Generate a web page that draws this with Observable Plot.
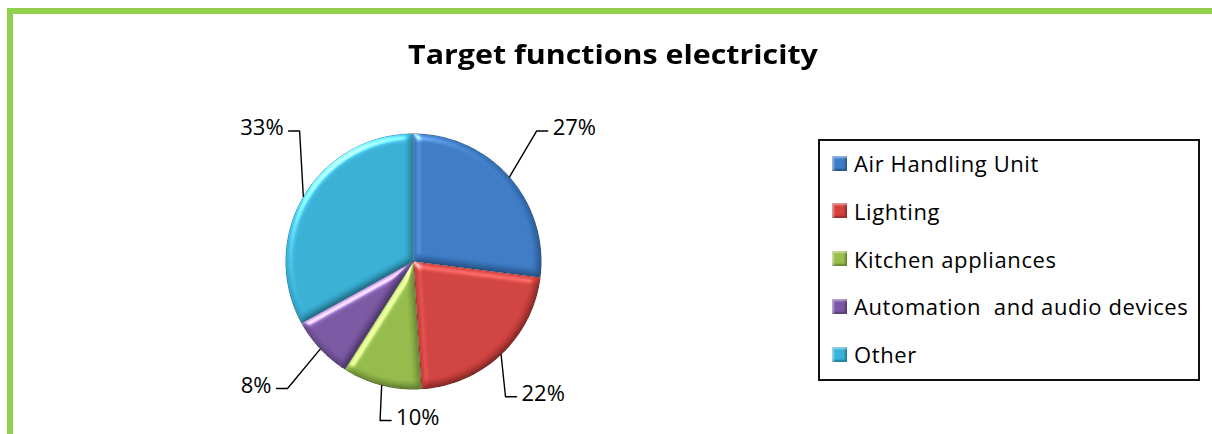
<!DOCTYPE html>
<html>
<head>
<meta charset="utf-8">
<script src="https://cdn.jsdelivr.net/npm/d3@7"></script>
<script src="https://cdn.jsdelivr.net/npm/@observablehq/plot@0.6"></script>
<style>
  html, body { margin: 0; padding: 0; background: #fff; }
  #frame { position: relative; width: 1212px; height: 434px; overflow: hidden; font-family: "Open Sans", Lato, sans-serif; }
  #border { position: absolute; left: 7px; top: 8px; width: 1240px; height: 470px; border: 6px solid #92D050; box-sizing: border-box; }
  #title { position: absolute; left: 0; width: 1226px; top: 37px; text-align: center; font-weight: bold; font-size: 27px; line-height: 34px; color: #000; transform: scaleX(1.125); transform-origin: 613px 0; }
  #chart { position: absolute; left: 0; top: 0; }
  #legend { position: absolute; left: 818px; top: 139px; width: 382px; height: 242px; border: 2px solid #111; box-sizing: border-box; }
  .row { position: absolute; left: 12px; height: 30px; display: flex; align-items: center; font-size: 22px; letter-spacing: 0.6px; white-space: pre; color: #000; }
  .sw { width: 15px; height: 15px; margin-right: 7px; box-sizing: border-box; }
</style>
</head>
<body>
<div id="frame">
  <div id="border"></div>
  <div id="title">Target functions electricity</div>
  <div id="chart"></div>
  <div id="legend"></div>
</div>
<script>
const categories = ["Air Handling Unit", "Lighting", "Kitchen appliances", "Automation  and audio devices", "Other"];
const values = [27, 22, 10, 8, 33];
const labels = ["27%", "22%", "10%", "8%", "33%"];
const colors = ["#3D7CC9", "#D4413E", "#97BE4B", "#7B58A5", "#38B3DA"];

const W = 1212, H = 434;
const cx = 413, cy = 261, R = 128;

const arcs = d3.pie().sort(null).value(d => d.value).startAngle(0).endAngle(2 * Math.PI)(
  categories.map((c, i) => ({category: c, value: values[i], label: labels[i]}))
);

// slice polygons in unit-radius coordinates (y up, angle clockwise from top)
const slicePts = [];
arcs.forEach(a => {
  slicePts.push({category: a.data.category, x: 0, y: 0});
  const n = Math.max(2, Math.ceil((a.endAngle - a.startAngle) / (Math.PI / 180)));
  for (let k = 0; k <= n; k++) {
    const t = a.startAngle + (a.endAngle - a.startAngle) * k / n;
    slicePts.push({category: a.data.category, x: Math.sin(t), y: Math.cos(t)});
  }
  slicePts.push({category: a.data.category, x: 0, y: 0});
});

// leader lines: upper labels sit level with the top of the pie, lower ones go outward
const seg = 11 / R, gap = 5 / R;
const yMin = -(H - cy - 14) / R;
const leaderPts = [], labRight = [], labLeft = [];
arcs.forEach(a => {
  const m = (a.startAngle + a.endAngle) / 2;
  const sx = Math.sin(m), sy = Math.cos(m);
  const upper = sy > 0;
  const right = sx > -0.3;
  const ex = upper ? sx * 1.15 + 0.1 : sx * (right ? 1.05 : 1.35);
  const ey = upper ? 1.02 : Math.max(yMin, sy * 1.45);
  const hx = ex + (right ? seg : -seg);
  leaderPts.push({label: a.data.label, x: sx, y: sy});
  leaderPts.push({label: a.data.label, x: ex, y: ey});
  leaderPts.push({label: a.data.label, x: hx, y: ey});
  (right ? labRight : labLeft).push({label: a.data.label, x: hx + (right ? gap : -gap), y: ey});
});

const plot = Plot.plot({
  width: W, height: H, margin: 0,
  x: {domain: [-cx / R, (W - cx) / R], axis: null},
  y: {domain: [-(H - cy) / R, cy / R], axis: null},
  color: {domain: categories, range: colors},
  style: {fontFamily: "'Open Sans', Lato, sans-serif", fontSize: "22px", background: "transparent"},
  marks: [
    Plot.line(slicePts, {x: "x", y: "y", z: "category", fill: "category", stroke: "rgba(0,0,0,0.28)", strokeWidth: 1, curve: "linear"}),
    Plot.line(leaderPts, {x: "x", y: "y", z: "label", stroke: "#000", strokeWidth: 1.4}),
    Plot.text(labRight, {x: "x", y: "y", text: "label", textAnchor: "start", lineAnchor: "bottom", dy: 4, fontSize: 22, fill: "#000"}),
    Plot.text(labLeft, {x: "x", y: "y", text: "label", textAnchor: "end", lineAnchor: "bottom", dy: 4, fontSize: 22, fill: "#000"})
  ]
});

// bevel look for each slice
const ns = "http://www.w3.org/2000/svg";
const defs = document.createElementNS(ns, "defs");
defs.innerHTML = `
<filter id="bevel" x="-5%" y="-5%" width="110%" height="110%" color-interpolation-filters="sRGB">
  <feGaussianBlur in="SourceAlpha" stdDeviation="3.5" result="b"/>
  <feSpecularLighting in="b" surfaceScale="4" specularConstant="0.8" specularExponent="25" lighting-color="#ffffff" result="s">
    <feDistantLight azimuth="235" elevation="35"/>
  </feSpecularLighting>
  <feComposite in="s" in2="SourceAlpha" operator="in" result="s2"/>
  <feDiffuseLighting in="b" surfaceScale="4" diffuseConstant="1" lighting-color="#ffffff" result="d">
    <feDistantLight azimuth="235" elevation="55"/>
  </feDiffuseLighting>
  <feComposite in="SourceGraphic" in2="d" operator="arithmetic" k1="0.55" k2="0.5" k3="0" k4="0" result="shade"/>
  <feComposite in="shade" in2="s2" operator="arithmetic" k1="0" k2="1" k3="0.7" k4="0" result="lit"/>
  <feComposite in="lit" in2="SourceAlpha" operator="in"/>
</filter>`;
plot.insertBefore(defs, plot.firstChild);
const sliceGroup = plot.querySelector('g[aria-label="line"]');
sliceGroup.querySelectorAll("path").forEach(p => p.setAttribute("filter", "url(#bevel)"));

document.getElementById("chart").appendChild(plot);

// legend
const legend = document.getElementById("legend");
categories.forEach((c, i) => {
  const row = document.createElement("div");
  row.className = "row";
  row.style.top = (7 + i * 47.8) + "px";
  const sw = document.createElement("div");
  sw.className = "sw";
  sw.style.background = colors[i];
  sw.style.boxShadow = "inset 2px 2px 2px rgba(255,255,255,0.45), inset -2px -2px 2px rgba(0,0,0,0.3)";
  const tx = document.createElement("span");
  tx.textContent = c;
  row.appendChild(sw);
  row.appendChild(tx);
  legend.appendChild(row);
});
</script>
</body>
</html>
